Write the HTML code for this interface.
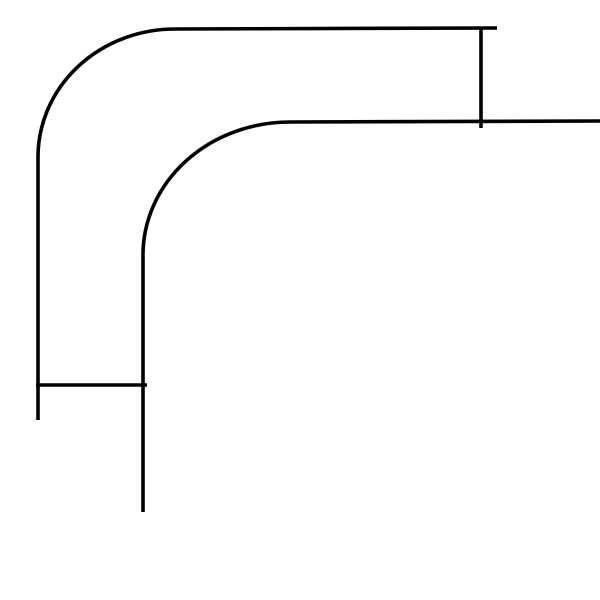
<!DOCTYPE html>
<html>
<head>
<meta charset="utf-8">
<style>
html,body{margin:0;padding:0;background:#fff;}
svg{display:block;}
</style>
</head>
<body>
<svg width="600" height="600" viewBox="0 0 600 600" xmlns="http://www.w3.org/2000/svg">
<rect x="0" y="0" width="600" height="600" fill="#fff"/>
<g fill="none" stroke="#000" stroke-width="3.6" stroke-linecap="butt">
<path d="M38,420 L38,158 A137,128 0 0 1 175,29 L497,28"/>
<path d="M143,512 L143,255 A147,133 0 0 1 290,122 L600,121"/>
<line x1="481" y1="28" x2="481" y2="128"/>
<line x1="36" y1="385" x2="147" y2="385"/>
</g>
</svg>
</body>
</html>
